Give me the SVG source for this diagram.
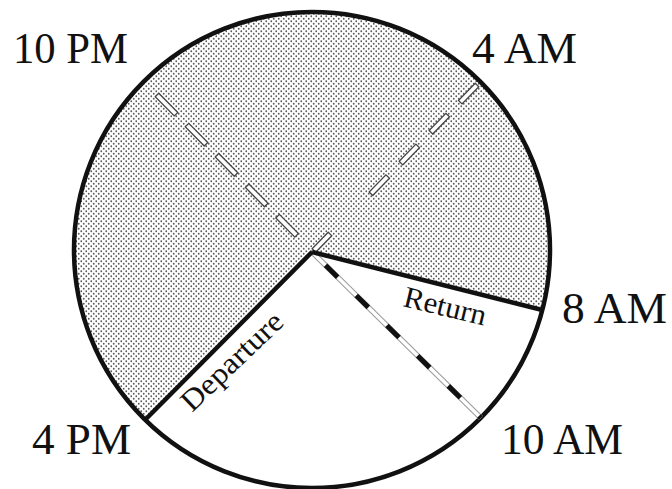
<svg xmlns="http://www.w3.org/2000/svg" width="672" height="489" viewBox="0 0 672 489">
  <style>
    .lbl { font-family: "Liberation Serif", "Times New Roman", serif; fill: #111; }
    .big { font-size: 44px; }
    .small { font-size: 30px; }
    .edge { fill: none; stroke: #111; stroke-width: 4.5; stroke-linecap: butt; }
    .od { fill: #fff; stroke: #444; stroke-width: 1.3; }
  </style>
  <defs>
    <pattern id="dots" width="5" height="5" patternUnits="userSpaceOnUse">
      <rect width="5" height="5" fill="#fff"/>
      <circle cx="1.25" cy="1.25" r="0.9" fill="#5a5a5a"/>
      <circle cx="3.75" cy="3.75" r="0.9" fill="#5a5a5a"/>
    </pattern>
  </defs>
  <rect width="672" height="489" fill="#fff"/>

  <g id="pie">
    <path id="night" d="M312 252 L542.3 310 A238 238 0 1 0 146 419 Z" fill="url(#dots)"/>
    <circle id="rim" cx="312" cy="250" r="238" class="edge" stroke-width="4"/>
  </g>

  <g id="connectors">
    <!-- 10 PM hollow dashes -->
    <g id="line-10pm">
      <rect class="od" x="0" y="-2.5" width="27" height="5" transform="translate(157 95) rotate(45.2)"/>
      <rect class="od" x="0" y="-2.5" width="27" height="5" transform="translate(187 125.1) rotate(45.2)"/>
      <rect class="od" x="0" y="-2.5" width="27" height="5" transform="translate(217 155.3) rotate(45.2)"/>
      <rect class="od" x="0" y="-2.5" width="27" height="5" transform="translate(247.2 185.8) rotate(45.2)"/>
      <rect class="od" x="0" y="-2.5" width="27" height="5" transform="translate(277.6 216.2) rotate(45.2)"/>
    </g>
    <!-- 4 AM hollow dashes -->
    <g id="line-4am">
      <rect class="od" x="0" y="-2.5" width="24" height="5" transform="translate(477 85) rotate(134.3)"/>
      <rect class="od" x="0" y="-2.5" width="24" height="5" transform="translate(447.7 115.1) rotate(134.3)"/>
      <rect class="od" x="0" y="-2.5" width="24" height="5" transform="translate(417.7 145.9) rotate(134.3)"/>
      <rect class="od" x="0" y="-2.5" width="24" height="5" transform="translate(387.7 176.6) rotate(134.3)"/>
      <rect class="od" x="0" y="-2.5" width="23" height="5" transform="translate(330 234) rotate(134.3)"/>
    </g>
    <!-- 10 AM line -->
    <g id="line-10am">
      <line x1="312" y1="252" x2="481" y2="418" stroke="#999" stroke-width="5.5"/>
      <line x1="312" y1="252" x2="481" y2="418" stroke="#fff" stroke-width="3.5"/>
      <line x1="312" y1="252" x2="481" y2="418" stroke="#111" stroke-width="5" stroke-dasharray="17 26" stroke-dashoffset="-19"/>
    </g>
    <!-- solid radial lines -->
    <line id="line-8am" x1="312" y1="252" x2="542.3" y2="310" class="edge"/>
    <line id="line-4pm" x1="312" y1="252" x2="146" y2="419" class="edge"/>
  </g>

  <g id="labels">
    <text id="t-10pm" class="lbl big" x="13" y="63" textLength="115" lengthAdjust="spacingAndGlyphs">10 PM</text>
    <text id="t-4am" class="lbl big" x="472" y="63" textLength="105" lengthAdjust="spacingAndGlyphs">4 AM</text>
    <text id="t-8am" class="lbl big" x="562" y="323" textLength="105" lengthAdjust="spacingAndGlyphs">8 AM</text>
    <text id="t-10am" class="lbl big" x="501" y="454" textLength="122" lengthAdjust="spacingAndGlyphs">10 AM</text>
    <text id="t-4pm" class="lbl big" x="32" y="454" textLength="99" lengthAdjust="spacingAndGlyphs">4 PM</text>
    <text id="t-return" class="lbl small" transform="translate(402 306) rotate(13.5)" x="0" y="0" textLength="84" lengthAdjust="spacingAndGlyphs">Return</text>
    <text id="t-departure" class="lbl small" transform="translate(192 413) rotate(-43.7)" x="0" y="0" textLength="129" lengthAdjust="spacingAndGlyphs">Departure</text>
  </g>
</svg>
